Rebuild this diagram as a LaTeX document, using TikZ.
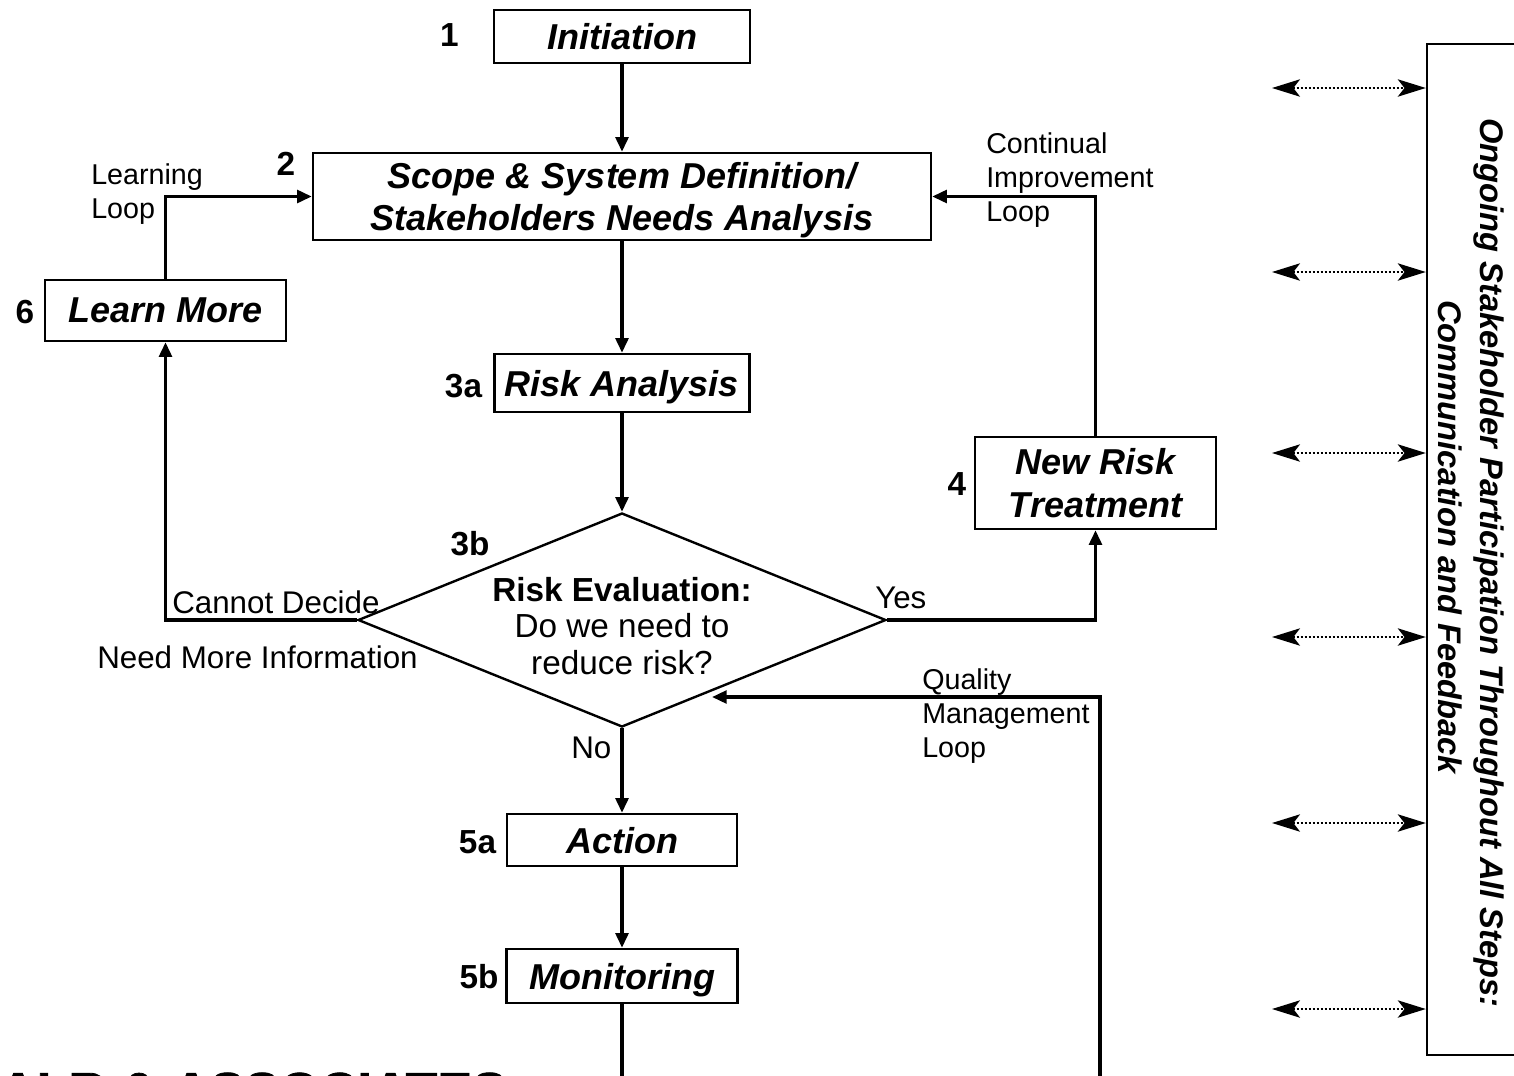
\documentclass[tikz,border=0pt]{standalone}
\usepackage{fontspec}
\setmainfont{Liberation Sans}
\newfontfamily\brandfont[FakeBold=1.5]{Liberation Sans Bold}
\usetikzlibrary{arrows.meta,shapes.geometric,calc}
\newdimen\pxu \pxu=0.75pt

\begin{document}
\begin{tikzpicture}[x=0.75pt,y=-0.75pt,
  stepbox/.style={draw, line width=1.8pt, inner sep=0pt, align=center, text depth=0pt,
    font=\fontsize{27}{32}\selectfont\bfseries\itshape},
  numlabel/.style={anchor=base, inner sep=0pt, font=\fontsize{25}{30}\selectfont\bfseries},
  flow/.style={line width=2.6pt, -{Triangle[length=11pt,width=9.5pt]}},
  edgelabel/.style={anchor=base west, inner sep=0pt, font=\fontsize{23.5}{28}\selectfont},
  looplabel/.style={anchor=base west, inner sep=0pt, align=left,
    font=\fontsize{21.5}{25.5}\selectfont},
  commarrow/.style={line width=1.6pt, dash pattern=on 1.6pt off 1.4pt,
    {Stealth[length=21pt,width=13pt,inset=5pt]}-{Stealth[length=21pt,width=13pt,inset=5pt]}},
  commtext/.style={rotate=-90, anchor=base, inner sep=0pt,
    font=\fontsize{24.5}{29}\selectfont\bfseries\itshape}
]
\useasboundingbox (0,0) rectangle (1514,1075);
\clip (0,0) rectangle (1514,1075);

% process steps
\node[stepbox, minimum width=256\pxu, minimum height=53\pxu] (init) at (622,36.5) {Initiation};
\node[stepbox, minimum width=618\pxu, minimum height=87\pxu] (scope) at (622,196.5)
  {Scope \& System Definition/\\Stakeholders Needs Analysis};
\node[stepbox, minimum width=241\pxu, minimum height=61\pxu] (learn) at (165.5,310.5) {Learn More};
\node[stepbox, minimum width=255\pxu, minimum height=58\pxu] (risk) at (622,383) {Risk Analysis};
\node[draw, diamond, line width=1.8pt, inner sep=0pt,
  minimum width=528\pxu, minimum height=214\pxu] (dia) at (622,620) {};
\node[align=center, inner sep=0pt, font=\fontsize{25}{27.4}\selectfont] (evaltext) at (622,626)
  {\textbf{Risk Evaluation:}\\Do we need to\\reduce risk?};
\node[stepbox, minimum width=241\pxu, minimum height=92\pxu] (treat) at (1095.5,483) {New Risk\\Treatment};
\node[stepbox, minimum width=230\pxu, minimum height=52\pxu] (action) at (622,840) {Action};
\node[stepbox, minimum width=231\pxu, minimum height=54\pxu] (monitor) at (622,976) {Monitoring};

% step numbers
\node[numlabel] (n1) at (449.5,46) {1};
\node[numlabel] (n2) at (286,175) {2};
\node[numlabel] (n6) at (25,323) {6};
\node[numlabel] (n3a) at (463.5,397) {3a};
\node[numlabel] (n3b) at (470,555) {3b};
\node[numlabel] (n4) at (957,495) {4};
\node[numlabel] (n5a) at (477.5,853) {5a};
\node[numlabel] (n5b) at (479,988) {5b};

% branch and loop labels (anchored at the baseline of their last line)
\node[edgelabel] (lcannot) at (172,613) {Cannot Decide};
\node[edgelabel] (lneed) at (97,668) {Need More Information};
\node[edgelabel] (lyes) at (875,608) {Yes};
\node[edgelabel] (lno) at (571,758) {No};
\node[looplabel] (llearn) at (91,218) {Learning\\Loop};
\node[looplabel] (lcont) at (986,221) {Continual\\Improvement\\Loop};
\node[looplabel] (lqual) at (922,757) {Quality\\Management\\Loop};

% main flow
\draw[flow] (init) -- (scope);
\draw[flow] (scope) -- (risk);
\draw[flow] (risk) -- (dia);
\draw[flow] (dia) -- (action);
\draw[flow] (action) -- (monitor);

% loops
\draw[flow] (dia.west) -| (learn.south);
\draw[flow] (learn.north) |- (scope.west);
\draw[flow] (dia.east) -| (treat.south);
\draw[flow] (treat.north) |- (scope.east);
\coordinate (qbase) at (1100,1120);
\coordinate (qin) at (712,697);
\draw[flow] (monitor.south) |- (qbase) |- (qin);

% stakeholder participation panel
\node[draw, line width=1.8pt, inner sep=0pt, minimum width=103\pxu, minimum height=1011\pxu] (comm) at (1478.5,549.5) {};
\node[commtext] (commtitle) at (1480,563) {Ongoing Stakeholder Participation Throughout All Steps:};
\node[commtext] (commsub) at (1438,537) {Communication and Feedback};
\foreach \yy [count=\i] in {88,272,453,637,823,1009} {
  \coordinate (ca\i) at (1272,\yy);
  \draw[commarrow] (ca\i) -- (ca\i -| comm.west);
}

% company name along the lower edge
\node[anchor=base west, inner sep=0pt, font=\brandfont\fontsize{39}{39}\selectfont] (brand) at (-1,1109) {ALR \& ASSOCIATES};
\end{tikzpicture}
\end{document}
